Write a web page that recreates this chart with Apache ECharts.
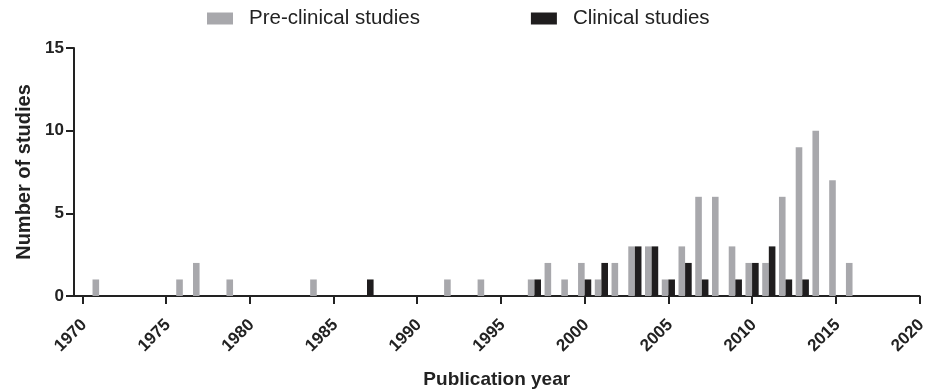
<!DOCTYPE html>
<html>
<head>
<meta charset="utf-8">
<script src="https://cdn.jsdelivr.net/npm/echarts@6/dist/echarts.min.js"></script>
<style>html,body{margin:0;padding:0;background:#fff;}#main{width:926px;height:391px;}</style>
</head>
<body>
<div id="main"></div>
<script>
const seriesNames = ['Pre-clinical studies', 'Clinical studies'];
const years = [1971,1976,1977,1979,1984,1987,1992,1994,1997,1998,1999,2000,2001,2002,2003,2004,2005,2006,2007,2008,2009,2010,2011,2012,2013,2014,2015,2016];
const preClinical = [1,1,2,1,1,0,1,1,1,2,1,2,1,2,3,3,1,3,6,6,3,2,2,6,9,10,7,2];
const clinical    = [0,0,0,0,0,1,0,0,1,0,0,1,2,0,3,3,1,2,1,0,1,2,3,1,1,0,0,0];
const xTicks = [1970,1975,1980,1985,1990,1995,2000,2005,2010,2015,2020];
const yTicks = [0,5,10,15];

const font = 'Liberation Sans, Arial, Helvetica, sans-serif';
const chart = echarts.init(document.getElementById('main'), null, {renderer: 'canvas'});
const pairs = arr => years.map((y, i) => [y, arr[i]]);
chart.setOption({
  animation: false,
  backgroundColor: '#ffffff',
  legend: {
    left: 207, top: 8, padding: 0,
    itemWidth: 26, itemHeight: 12, itemGap: 111,
    icon: 'rect',
    textStyle: {fontFamily: font, fontSize: 20.5, color: '#222', padding: [0,0,0,11]},
    data: seriesNames
  },
  grid: {left: 74, right: 6.5, top: 48, bottom: 95, containLabel: false, outerBoundsMode: 'none'},
  xAxis: {
    type: 'value', min: 1969.5, max: 2020,
    name: 'Publication year', nameLocation: 'middle', nameGap: 74,
    nameTextStyle: {fontFamily: font, fontSize: 19, fontWeight: 'bold', color: '#222'},
    axisLine: {show: true, onZero: false, lineStyle: {color: '#222', width: 2}},
    axisTick: {show: true, length: 8, customValues: xTicks, lineStyle: {color: '#222', width: 2}},
    axisLabel: {customValues: xTicks, rotate: 45, margin: 16, verticalAlign: 'top', padding: [0, 6, 0, 0], fontFamily: font, fontSize: 17, fontWeight: 'bold', color: '#222', formatter: v => String(v)},
    splitLine: {show: false}
  },
  yAxis: {
    type: 'value', min: yTicks[0], max: yTicks[yTicks.length-1], interval: 5,
    name: 'Number of studies', nameLocation: 'middle', nameGap: 39,
    nameTextStyle: {fontFamily: font, fontSize: 20, fontWeight: 'bold', color: '#222'},
    axisLine: {show: true, lineStyle: {color: '#222', width: 2}},
    axisTick: {show: true, length: 8, lineStyle: {color: '#222', width: 2}},
    axisLabel: {margin: 10, fontFamily: font, fontSize: 17, fontWeight: 'bold', color: '#222'},
    splitLine: {show: false}
  },
  series: [
    {name: seriesNames[0], type: 'bar', data: pairs(preClinical), barWidth: 6.6, barGap: '0%', itemStyle: {color: '#a8a8ac'}},
    {name: seriesNames[1], type: 'bar', data: pairs(clinical), barWidth: 6.6, barGap: '0%', itemStyle: {color: '#1f1d1e'}}
  ]
});
</script>
</body>
</html>
